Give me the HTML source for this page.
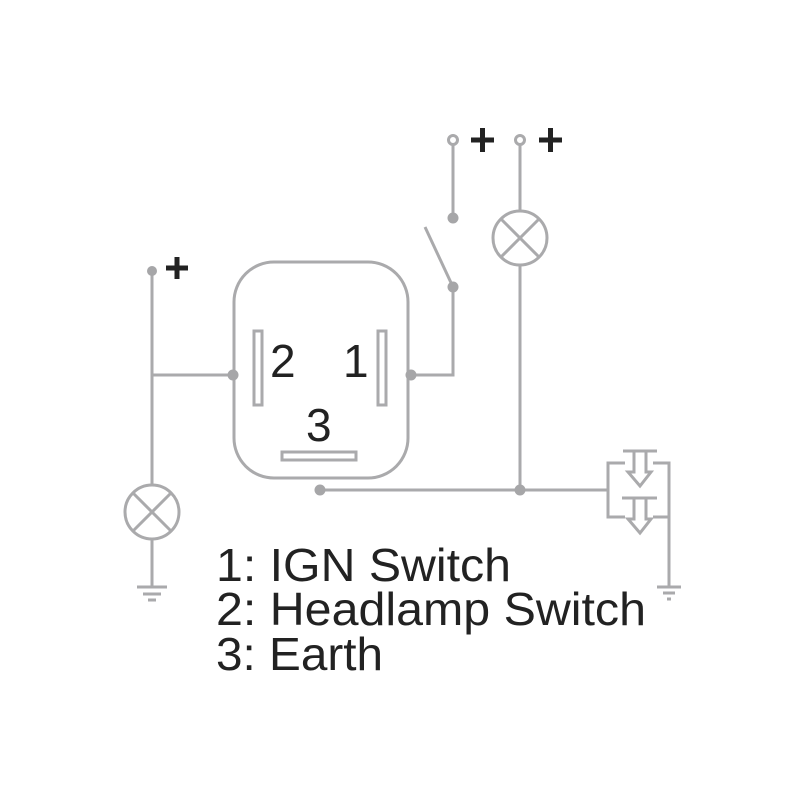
<!DOCTYPE html><html><head><style>body{margin:0;background:#fff}svg{display:block}</style></head><body>
<svg width="800" height="800" viewBox="0 0 800 800" xmlns="http://www.w3.org/2000/svg">
<g stroke="#aaaaac" stroke-width="3" fill="none">
<rect x="234" y="262" width="174" height="216" rx="40"/>
<rect x="254" y="331" width="8" height="74"/>
<rect x="378" y="331" width="8" height="74"/>
<rect x="282" y="452" width="74" height="8"/>
<line x1="152" y1="271" x2="152" y2="484"/>
<line x1="152" y1="375" x2="233" y2="375"/>
<circle cx="152" cy="512" r="27"/>
<line x1="133" y1="493" x2="171" y2="531"/><line x1="171" y1="493" x2="133" y2="531"/>
<line x1="152" y1="539" x2="152" y2="587"/>
<line x1="137" y1="587" x2="167" y2="587"/><line x1="143" y1="594" x2="161" y2="594"/><line x1="148" y1="600" x2="156" y2="600"/>
<circle cx="453" cy="140" r="4.5"/>
<line x1="453" y1="145" x2="453" y2="217"/>
<line x1="425" y1="227" x2="453" y2="287"/>
<polyline points="453,287 453,375 411,375"/>
<circle cx="520" cy="140" r="4.5"/>
<line x1="520" y1="145" x2="520" y2="211"/>
<circle cx="520" cy="238" r="27"/>
<line x1="501" y1="219" x2="539" y2="257"/><line x1="539" y1="219" x2="501" y2="257"/>
<line x1="520" y1="265" x2="520" y2="490"/>
<line x1="320" y1="490" x2="608" y2="490"/>
<polyline points="625,463 608,463 608,517 625,517"/>
<polyline points="653,463 669,463 669,587"/>
<line x1="653" y1="517" x2="669" y2="517"/>
<line x1="623" y1="451" x2="657" y2="451"/>
<polygon points="634,451 646,451 646,472 651,472 640,486 628,472 634,472"/>
<line x1="622" y1="498" x2="657" y2="498"/>
<polygon points="634,498 646,498 646,519 651,519 640,533 628,519 634,519"/>
<line x1="657" y1="587" x2="681" y2="587"/><line x1="663" y1="593" x2="675" y2="593"/><line x1="667" y1="599" x2="671" y2="599"/>
</g>
<g fill="#a6a6a8">
<circle cx="152" cy="271" r="5"/><circle cx="233" cy="375" r="5.5"/><circle cx="411" cy="375" r="5.5"/>
<circle cx="453" cy="218" r="5.5"/><circle cx="453" cy="287" r="5.5"/>
<circle cx="320" cy="490" r="5.5"/><circle cx="520" cy="490" r="5.5"/>
</g>
<g stroke="#222" stroke-width="5">
<line x1="166" y1="268" x2="188" y2="268"/><line x1="177" y1="257" x2="177" y2="279"/>
<line x1="471" y1="140" x2="494" y2="140"/><line x1="482.5" y1="128" x2="482.5" y2="152"/>
<line x1="539" y1="140" x2="562" y2="140"/><line x1="550.5" y1="128" x2="550.5" y2="152"/>
</g>
<g font-family="Liberation Sans, sans-serif" fill="#222">
<text x="270" y="377" font-size="46">2</text>
<text x="343" y="377" font-size="46">1</text>
<text x="306" y="441" font-size="46">3</text>
<text x="216" y="581" font-size="46" textLength="295" lengthAdjust="spacingAndGlyphs">1: IGN Switch</text>
<text x="216" y="625" font-size="46" textLength="430" lengthAdjust="spacingAndGlyphs">2: Headlamp Switch</text>
<text x="216" y="670" font-size="46" textLength="167" lengthAdjust="spacingAndGlyphs">3: Earth</text>
</g>
</svg></body></html>
